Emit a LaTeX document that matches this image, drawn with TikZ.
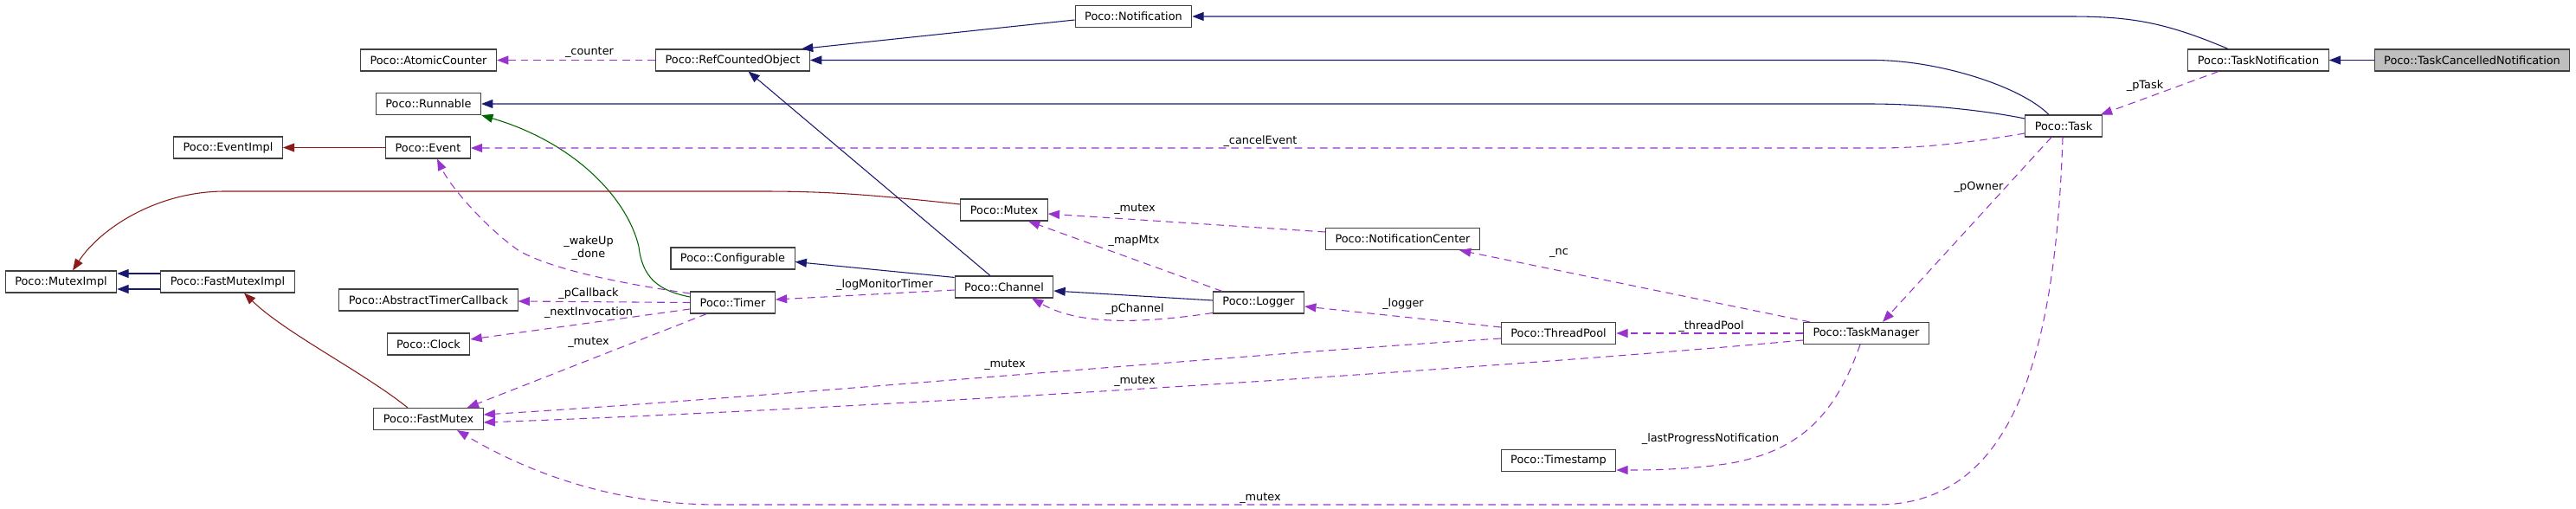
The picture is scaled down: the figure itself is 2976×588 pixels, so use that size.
\documentclass[tikz,border=0pt]{standalone}
\usepackage{fontspec}
\setmainfont{DejaVu Sans}
\usetikzlibrary{arrows.meta}
\usetikzlibrary{calc}
\definecolor{inhblue}{HTML}{191970}
\definecolor{protgreen}{HTML}{006400}
\definecolor{privred}{HTML}{8B1A1A}
\definecolor{usepurple}{HTML}{9A32CD}
\begin{document}
\begin{tikzpicture}[x=0.75pt,y=-0.75pt,
    cls/.style={draw=black!75, fill=white, line width=0.8pt, minimum height=18.75pt,
      inner xsep=8.25pt, inner ysep=0pt, font=\fontsize{9.65}{11.25}\selectfont},
    lbl/.style={inner sep=0pt, align=center, font=\fontsize{9.65}{11.25}\selectfont},
    pub/.style={draw=inhblue, line width=0.8pt, -{Triangle[length=10pt,width=7.5pt]}},
    prot/.style={pub, draw=protgreen},
    priv/.style={pub, draw=privred},
    uses/.style={pub, draw=usepurple, dash pattern=on 6.5pt off 4.5pt}]
	\useasboundingbox (0,0) rectangle (2976,588);
	% draw classes
	\node[cls] (mutexImpl) at (70.5,325.5) {Poco::MutexImpl};
	\node[cls] (fastMutexImpl) at (263,325.5) {Poco::FastMutexImpl};
	\node[cls] (eventImpl) at (263.5,170.5) {Poco::EventImpl};
	\node[cls] (atomicCounter) at (495,69.5) {Poco::AtomicCounter};
	\node[cls] (runnable) at (495,120) {Poco::Runnable};
	\node[cls] (event) at (494.5,170.5) {Poco::Event};
	\node[cls] (timerCallback) at (495,346.5) {Poco::AbstractTimerCallback};
	\node[cls] (clock) at (495,397.5) {Poco::Clock};
	\node[cls] (fastMutex) at (495,484) {Poco::FastMutex};
	\node[cls] (refCounted) at (846.5,69.5) {Poco::RefCountedObject};
	\node[cls] (configurable) at (846.5,298.5) {Poco::Configurable};
	\node[cls] (timer) at (846.5,349.5) {Poco::Timer};
	\node[cls] (notification) at (1309.5,19) {Poco::Notification};
	\node[cls] (mutex) at (1160,242.5) {Poco::Mutex};
	\node[cls] (channel) at (1160,331.5) {Poco::Channel};
	\node[cls] (logger) at (1454,349.5) {Poco::Logger};
	\node[cls] (notifCenter) at (1620.5,276) {Poco::NotificationCenter};
	\node[cls] (threadPool) at (1800.5,385) {Poco::ThreadPool};
	\node[cls] (timestamp) at (1800.5,532) {Poco::Timestamp};
	\node[cls] (taskManager) at (2156,385) {Poco::TaskManager};
	\node[cls] (task) at (2384,145.5) {Poco::Task};
	\node[cls] (taskNotif) at (2609,69.5) {Poco::TaskNotification};
	\node[cls, fill=black!25] (cancelledNotif) at (2856,69.5) {Poco::TaskCancelledNotification};
	
	% inheritance
	\draw[pub] (cancelledNotif.west) -- (taskNotif.east);
	\draw[pub] ($(taskNotif.north)+(-35,0)$) .. controls (2500,25) and (2460,19) .. (2390,19) -- (notification.east);
	\draw[pub] ($(notification.west)+(0,4)$) -- ($(refCounted.north east)+(-10,0)$);
	\draw[pub] ($(task.north)+(-17,0)$) .. controls (2335,100) and (2240,69.5) .. (2164,69.5) -- (refCounted.east);
	\draw[pub] ($(task.west)+(0,-8.5)$) .. controls (2290,127) and (2220,120) .. (2159,120) -- (runnable.east);
	\draw[prot] ($(timer.west)+(0,-6.5)$) .. controls (760,336) and (742,320) .. (738,285) .. controls (725,230) and (665,165) .. (runnable.south east);
	\draw[priv] (event.west) -- (eventImpl.east);
	\draw[priv] ($(mutex.west)+(0,-6.5)$) .. controls (1000,224) and (950,221) .. (880,221) -- (260,221) .. controls (180,221) and (115,265) .. ($(mutexImpl.north)+(13.5,0)$);
	\draw[pub] ($(fastMutexImpl.west)+(0,-9.5)$) -- ($(mutexImpl.east)+(0,-9.5)$);
	\draw[pub] ($(fastMutexImpl.west)+(0,8.5)$) -- ($(mutexImpl.east)+(0,8.5)$);
	\draw[priv] ($(fastMutex.north)+(-24,0)$) .. controls (420,430) and (330,385) .. ($(fastMutexImpl.south)+(19,0)$);
	\draw[pub] ($(channel.north)+(-16,0)$) -- ($(refCounted.south)+(18,0)$);
	\draw[pub] ($(channel.north west)+(0,2)$) -- ($(configurable.east)+(0,4)$);
	\draw[pub] ($(logger.west)+(0,-2.5)$) -- ($(channel.east)+(0,4.5)$);
	
	% members
	\draw[uses] (refCounted.west) -- (atomicCounter.east);
	\draw[uses] ($(task.west)+(0,8.5)$) .. controls (2280,164) and (2225,171) .. (2170,171) -- ($(event.east)+(0,0.5)$);
	\draw[uses] ($(timer.west)+(0,-10.5)$) .. controls (720,328) and (640,312) .. (600,290) .. controls (560,262) and (520,215) .. ($(event.south)+(10.5,0)$);
	\draw[uses] (timer.west) -- ($(timerCallback.east)+(0,1.5)$);
	\draw[uses] ($(timer.west)+(0,7.5)$) -- ($(clock.east)+(0,-5.5)$);
	\draw[uses] ($(timer.south)+(-30,0)$) -- ($(fastMutex.north east)+(-19,0)$);
	\draw[uses] ($(channel.west)+(0,3.5)$) -- ($(timer.east)+(0,-3.5)$);
	\draw[uses] ($(notifCenter.west)+(0,-8)$) -- ($(mutex.east)+(0,4.5)$);
	\draw[uses] ($(logger.north)+(-42,0)$) -- ($(mutex.south)+(28,0)$);
	\draw[uses] ($(logger.west)+(0,12)$) .. controls (1330,372) and (1250,378) .. ($(channel.south)+(32,0)$);
	\draw[uses] ($(threadPool.west)+(0,-7)$) -- ($(logger.east)+(0,4.5)$);
	\draw[uses] ($(threadPool.west)+(0,6)$) .. controls (1400,412) and (900,458) .. ($(fastMutex.east)+(0,-5)$);
	\draw[uses] ($(taskManager.west)+(0,8)$) .. controls (1700,428) and (1000,472) .. ($(fastMutex.east)+(0,4)$);
	\draw[uses] ($(taskManager.north west)+(8,0)$) -- ($(notifCenter.south east)+(-24,0)$);
	\draw[uses] (taskManager.west) -- (threadPool.east);
	\draw[uses] ($(taskManager.south)+(-7,0)$) .. controls (2120,480) and (2080,520) .. (2000,535) .. controls (1950,543) and (1900,543) .. ($(timestamp.east)+(0,11)$);
	\draw[uses] ($(task.south)+(-14,0)$) -- ($(taskManager.north)+(19,0)$);
	\draw[uses] ($(taskNotif.south)+(-46,0)$) -- ($(task.north east)+(-2,0)$);
	\draw[uses] ($(task.south)+(-1,0)$) .. controls (2375,400) and (2330,583) .. (2169,583) -- (830,583) .. controls (700,583) and (600,540) .. ($(fastMutex.south)+(33,0)$);
	
	% member names
	\node[lbl] (lCounter) at (681,61) {\_counter};
	\node[lbl] (lWakeUp) at (680,287) {\_wakeUp\\\_done};
	\node[lbl] (lCallback) at (680,339) {\_pCallback};
	\node[lbl] (lNextInv) at (680,361) {\_nextInvocation};
	\node[lbl] (lTimerMutex) at (680,395) {\_mutex};
	\node[lbl] (lMonitor) at (1022,329) {\_logMonitorTimer};
	\node[lbl] (lCancel) at (1456,163) {\_cancelEvent};
	\node[lbl] (lNcMutex) at (1311,241) {\_mutex};
	\node[lbl] (lMapMtx) at (1310,278) {\_mapMtx};
	\node[lbl] (lChannel) at (1311,357) {\_pChannel};
	\node[lbl] (lLogger) at (1621,351) {\_logger};
	\node[lbl] (lPoolMutex) at (1161,421) {\_mutex};
	\node[lbl] (lMgrMutex) at (1311,440) {\_mutex};
	\node[lbl] (lThreadPool) at (1977,377) {\_threadPool};
	\node[lbl] (lProgress) at (1976,507) {\_lastProgressNotification};
	\node[lbl] (lNc) at (1801,292) {\_nc};
	\node[lbl] (lOwner) at (2286,216) {\_pOwner};
	\node[lbl] (lTask) at (2478,99) {\_pTask};
	\node[lbl] (lTaskMutex) at (1456,575) {\_mutex};
\end{tikzpicture}
\end{document}
